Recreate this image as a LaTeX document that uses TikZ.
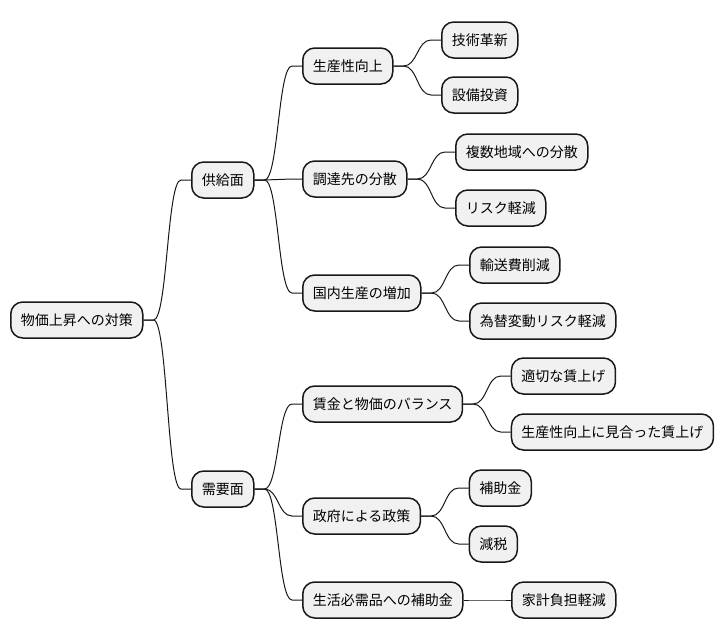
\documentclass[tikz,border=0pt]{standalone}
\usepackage{fontspec}
\newfontfamily\cjk{Noto Sans CJK JP}
\usetikzlibrary{calc}
\definecolor{nodefill}{HTML}{F1F1F1}
\definecolor{nodeline}{HTML}{181818}
\tikzset{
  mm/.style={draw=nodeline, fill=nodefill, line width=1.5pt, rounded corners=12pt,
    inner xsep=10pt, inner ysep=0pt, minimum height=36pt,
    font=\cjk\fontsize{14pt}{16pt}\selectfont, anchor=west, text=black},
  link/.style={draw=nodeline, line width=1pt},
}
\newcommand\kid[4]{%
  \path ([xshift=47.5pt]#1.east) coordinate (tmpx);
  \coordinate (tmpy) at (0,#3);
  \node[mm] (#2) at (tmpx |- tmpy) {#4};
  \draw[link] (#1.east) -- ++(10,0) .. controls +(14,0) and +(-14,0) .. ([xshift=-10pt]#2.west) -- (#2.west);
}
\begin{document}
\begin{tikzpicture}[x=1pt,y=-1pt]
\useasboundingbox (0,0) rectangle (726,640);
\node[mm] (root) at (10,320) {物価上昇への対策};
\kid{root}{sup}{180}{供給面}
\kid{root}{dem}{489}{需要面}
\kid{sup}{prod}{66}{生産性向上}
\kid{sup}{proc}{179}{調達先の分散}
\kid{sup}{dom}{293}{国内生産の増加}
\kid{dem}{wage}{404}{賃金と物価のバランス}
\kid{dem}{gov}{516}{政府による政策}
\kid{dem}{subs}{600}{生活必需品への補助金}
\kid{prod}{tech}{40}{技術革新}
\kid{prod}{inv}{95}{設備投資}
\kid{proc}{multi}{152}{複数地域への分散}
\kid{proc}{risk}{208}{リスク軽減}
\kid{dom}{trans}{265}{輸送費削減}
\kid{dom}{fx}{321}{為替変動リスク軽減}
\kid{wage}{fair}{376}{適切な賃上げ}
\kid{wage}{match}{432}{生産性向上に見合った賃上げ}
\kid{gov}{grant}{488}{補助金}
\kid{gov}{tax}{544}{減税}
\kid{subs}{house}{600}{家計負担軽減}
\end{tikzpicture}
\end{document}
